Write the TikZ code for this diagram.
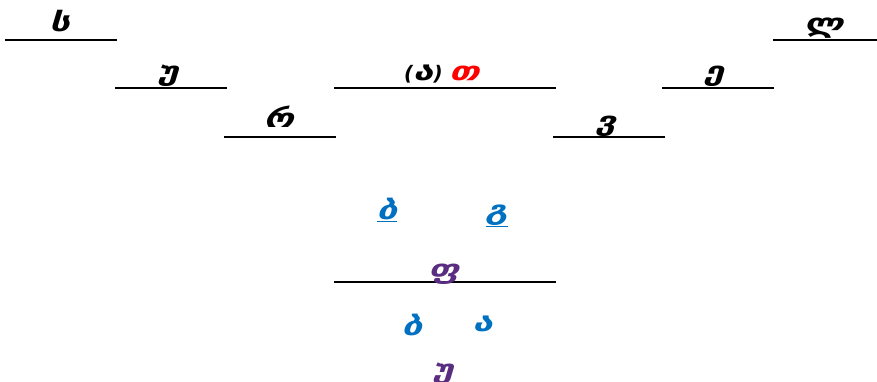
\documentclass[tikz,border=0pt]{standalone}
\usepackage{fontspec}
\setmainfont{DejaVu Sans}
\newfontfamily\geofont{DejaVu Sans}[FakeStretch=1.4]
\definecolor{lnblue}{RGB}{0,112,192}
\definecolor{lnpurple}{RGB}{90,45,130}
\definecolor{lnred}{RGB}{255,0,0}
\newcommand{\geo}[1]{{\geofont\bfseries\itshape\fontsize{26}{30}\selectfont #1}}
\begin{document}
\begin{tikzpicture}[x=1pt,y=-1pt,
  rulel/.style={line width=2pt, black},
  lbl/.style={font=\fontsize{20}{24}\selectfont\bfseries\itshape, anchor=base, inner sep=0pt},
  bluetxt/.style={lbl, text=lnblue},
  purptxt/.style={lbl, text=lnpurple}]
\useasboundingbox (0,0) rectangle (877,382);
% rules
\coordinate (r1a) at (5,40);    \coordinate (r1b) at (117,40);
\coordinate (r2a) at (773,40);  \coordinate (r2b) at (877,40);
\coordinate (r3a) at (115,88);  \coordinate (r3b) at (227,88);
\coordinate (r4a) at (334,88);  \coordinate (r4b) at (556,88);
\coordinate (r5a) at (662,88);  \coordinate (r5b) at (774,88);
\coordinate (r6a) at (224,137); \coordinate (r6b) at (336,137);
\coordinate (r7a) at (553,137); \coordinate (r7b) at (665,137);
\coordinate (r8a) at (334,282); \coordinate (r8b) at (556,282);
\foreach \i in {1,...,8} \draw[rulel] (r\i a) -- (r\i b);
% labels
\node[lbl] (s) at (60,32) {\geo{ს}};
\node[lbl] (l) at (824,33) {\geo{ლ}};
\node[lbl] (u1) at (168,81) {\geo{უ}};
\node[lbl] (at) at (442,81) {(\geo{ა}) \textcolor{lnred}{\geo{თ}}};
\node[lbl] (e) at (714,81) {\geo{ე}};
\node[lbl] (r) at (279,128) {\geo{რ}};
\node[lbl] (v) at (606,131) {\geo{ვ}};
\node[bluetxt] (b1) at (387,219) {\underline{\geo{ბ}}};
\node[bluetxt] (g) at (497,219) {\underline{\geo{გ}}};
\node[purptxt] (ph) at (444,278) {\geo{ფ}};
\node[bluetxt] (b2) at (412,335) {\geo{ბ}};
\node[bluetxt] (a) at (483,331) {\geo{ა}};
\node[purptxt] (u2) at (443,378) {\geo{უ}};
\end{tikzpicture}
\end{document}
